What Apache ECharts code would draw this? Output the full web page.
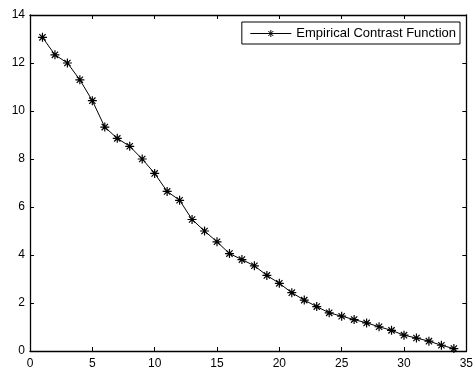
<!DOCTYPE html>
<html>
<head>
<meta charset="utf-8">
<script src="https://cdn.jsdelivr.net/npm/echarts@6/dist/echarts.min.js"></script>
<style>
  html, body { margin: 0; padding: 0; background: #fff; }
  #chart { width: 476px; height: 370px; }
</style>
</head>
<body>
<div id="chart"></div>
<script>
// Empirical contrast function values, index 1..34
const xValues = [1,2,3,4,5,6,7,8,9,10,11,12,13,14,15,16,17,18,19,20,21,22,23,24,25,26,27,28,29,30,31,32,33,34];
const contrastValues = [13.07,12.34,12.0,11.3,10.43,9.33,8.86,8.53,8.0,7.40,6.65,6.28,5.48,5.0,4.55,4.06,3.81,3.55,3.15,2.82,2.43,2.12,1.85,1.59,1.45,1.31,1.17,1.01,0.86,0.66,0.54,0.41,0.24,0.10];
const seriesName = 'Empirical Contrast Function';

// Asterisk marker: horizontal, vertical and two diagonal strokes
const asterisk = 'path://M-1,0L1,0M0,-1L0,1M-0.7,-0.7L0.7,0.7M-0.7,0.7L0.7,-0.7';
// Legend key: a short line with an asterisk in its middle (41 x 8 box)
const legendKey = 'path://M0,4L41,4M20.5,0.5L20.5,7.5M18,1.5L23,6.5M18,6.5L23,1.5';

const font = 'Liberation Sans, Arial, sans-serif';
function tick() {
  return { show: true, inside: true, length: 4, lineStyle: { color: '#000', width: 1 } };
}
function axisLine() {
  return { show: true, onZero: false, lineStyle: { color: '#000', width: 1.3 } };
}

const chart = echarts.init(document.getElementById('chart'), null, { renderer: 'canvas' });
chart.setOption({
  animation: false,
  backgroundColor: '#fff',
  grid: { left: 30, right: 8, top: 15, bottom: 17, containLabel: false },
  legend: {
    data: [{ name: seriesName, icon: legendKey }],
    right: 16,
    top: 22,
    orient: 'vertical',
    borderColor: '#000',
    borderWidth: 1,
    padding: [5, 4, 4, 8],
    itemWidth: 41,
    itemHeight: 8,
    itemGap: 0,
    itemStyle: { color: '#000', borderColor: '#000', borderWidth: 1 },
    lineStyle: { color: '#000', width: 1 },
    textStyle: { fontFamily: font, fontSize: 13, color: '#000' }
  },
  xAxis: [
    {
      type: 'value', min: 0, max: 35, interval: 5, position: 'bottom',
      axisLine: axisLine(), axisTick: tick(), splitLine: { show: false },
      axisLabel: { fontFamily: font, fontSize: 12, color: '#000', margin: 7 }
    },
    {
      type: 'value', min: 0, max: 35, interval: 5, position: 'top',
      axisLine: axisLine(), axisTick: tick(), splitLine: { show: false },
      axisLabel: { show: false }
    }
  ],
  yAxis: [
    {
      type: 'value', min: 0, max: 14, interval: 2, position: 'left',
      axisLine: axisLine(), axisTick: tick(), splitLine: { show: false },
      axisLabel: { fontFamily: font, fontSize: 12, color: '#000', margin: 5 }
    },
    {
      type: 'value', min: 0, max: 14, interval: 2, position: 'right',
      axisLine: axisLine(), axisTick: tick(), splitLine: { show: false },
      axisLabel: { show: false }
    }
  ],
  series: [{
    name: seriesName,
    type: 'line',
    data: xValues.map((x, i) => [x, contrastValues[i]]),
    symbol: asterisk,
    symbolSize: 9,
    showAllSymbol: true,
    lineStyle: { color: '#000', width: 1 },
    itemStyle: { color: '#000', borderColor: '#000', borderWidth: 1.2 }
  }]
});
</script>
</body>
</html>
